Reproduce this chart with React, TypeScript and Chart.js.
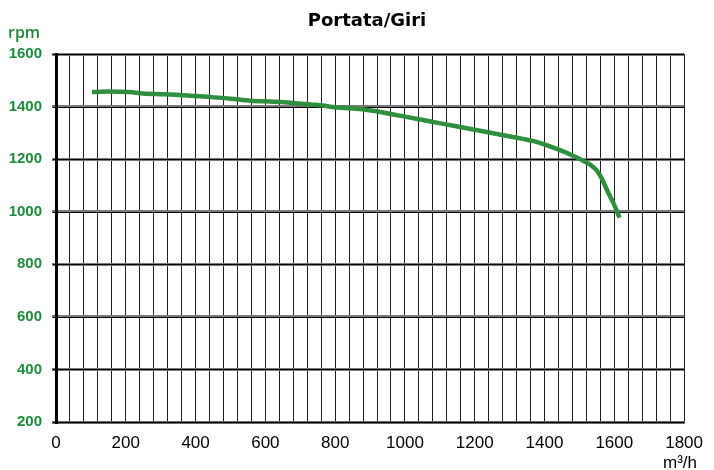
import { useEffect, useRef } from 'react';
import { Chart, registerables } from 'chart.js';

Chart.register(...registerables);

const flowValues = [103, 150, 209, 250, 312, 400, 444, 500, 557, 600, 680, 730, 764, 800, 877, 914, 971, 1040, 1102, 1196, 1290, 1384, 1441, 1488, 1516, 1535, 1550, 1565, 1582, 1600, 1615];
const rpmValues = [1455, 1457, 1455, 1450, 1447, 1440, 1436, 1430, 1422, 1420, 1414, 1408, 1404, 1397, 1390, 1383, 1369, 1352, 1336, 1313, 1289, 1263, 1236, 1209, 1190, 1175, 1156, 1124, 1074, 1025, 977];
const xLabelValues = [0, 200, 400, 600, 800, 1000, 1200, 1400, 1600, 1800];
const yLabelValues = [200, 400, 600, 800, 1000, 1200, 1400, 1600];
const titleText = 'Portata/Giri';
const yUnit = 'rpm';
const xUnit = 'm³/h';

const GREEN = '#1d8c3c';

const textPlugin = {
  id: 'texts',
  beforeDatasetsDraw(chart: any) {
    const { ctx, chartArea, scales } = chart;
    ctx.save();
    ctx.strokeStyle = '#000';
    ctx.lineWidth = 1.2;
    for (const v of yLabelValues) {
      const y = Math.round(scales.y.getPixelForValue(v)) + 0.5;
      ctx.beginPath();
      ctx.moveTo(chartArea.left - 3, y);
      ctx.lineTo(chartArea.right, y);
      ctx.stroke();
    }
    ctx.restore();
  },
  afterDraw(chart: any) {
    const { ctx } = chart;
    ctx.save();
    ctx.fillStyle = '#000';
    ctx.textAlign = 'center';
    ctx.textBaseline = 'alphabetic';
    ctx.font = 'bold 18px "DejaVu Sans"';
    ctx.fillText(titleText, 367, 26);
    ctx.fillStyle = GREEN;
    ctx.textAlign = 'left';
    ctx.font = '600 16px "Open Sans"';
    ctx.fillText(yUnit, 8, 38);
    ctx.fillStyle = '#000';
    ctx.textAlign = 'center';
    ctx.font = '17px "Liberation Sans"';
    ctx.fillText(xUnit, 680, 468);
    ctx.restore();
  },
};

export default function App() {
  const ref = useRef<HTMLCanvasElement>(null);
  useEffect(() => {
    const chart = new Chart(ref.current!, {
      type: 'scatter',
      data: {
        datasets: [
          {
            data: flowValues.map((x, i) => ({ x, y: rpmValues[i] })),
            showLine: true,
            borderColor: '#2e8f3e',
            borderWidth: 4.5,
            pointRadius: 0,
            tension: 0.3,
            cubicInterpolationMode: 'monotone',
          },
        ],
      },
      options: {
        responsive: false,
        animation: false,
        layout: { padding: { top: 54, right: 20, left: 0, bottom: 0 } },
        plugins: { legend: { display: false }, tooltip: { enabled: false }, title: { display: false } },
        scales: {
          x: {
            type: 'linear',
            min: 0,
            max: 1800,
            afterFit: (s: any) => { s.height = 48; },
            grid: { color: '#1e1e1e', lineWidth: 1, drawTicks: false },
            border: { display: true, color: '#6a6a6a', width: 3 },
            ticks: {
              stepSize: 40,
              maxTicksLimit: 100,
              autoSkip: false,
              maxRotation: 0,
              padding: 11,
              color: '#000',
              font: { family: '"Liberation Sans"', size: 17 },
              callback: (v: any) => (xLabelValues.includes(Number(v)) ? String(v) : ''),
            },
          },
          y: {
            min: 200,
            max: 1600,
            afterFit: (s: any) => { s.width = 56; },
            grid: { color: '#7a7a7a', lineWidth: 3, drawTicks: true, tickLength: 4 },
            border: { display: true, color: '#000', width: 3 },
            ticks: {
              stepSize: 200,
              padding: 10,
              color: GREEN,
              font: { family: '"Liberation Sans"', size: 15, weight: 'bold' },
              callback: (v: any) => (yLabelValues.includes(Number(v)) ? String(v) : ''),
            },
          },
        },
      },
      plugins: [textPlugin],
    } as any);
    return () => chart.destroy();
  }, []);
  return (
    <div style={{ position: 'absolute', left: 0, top: 0, width: 714, height: 470 }}>
      <canvas ref={ref} width={714} height={470} />
    </div>
  );
}
